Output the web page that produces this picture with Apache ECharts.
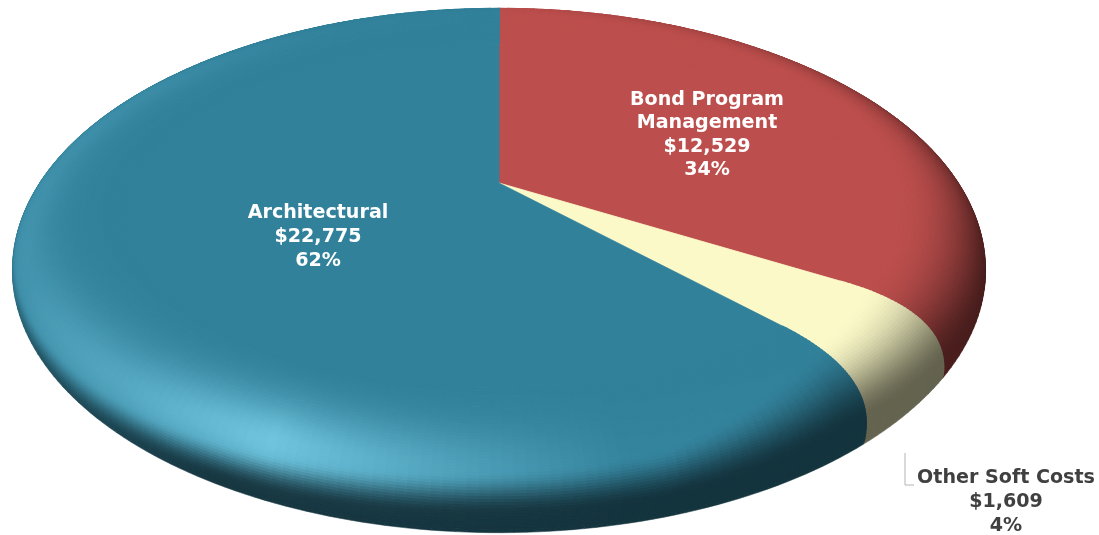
<!DOCTYPE html>
<html><head><meta charset="utf-8">
<style>html,body{margin:0;padding:0;background:#fff}#c{width:1099px;height:535px}</style>
<script src="https://cdn.jsdelivr.net/npm/echarts@6/dist/echarts.min.js"></script>
</head><body><div id="c"></div>
<script>
const categories = ['Bond Program\nManagement', 'Other Soft Costs', 'Architectural'];
const values = [12529, 1609, 22775];
const valueLabels = ['$12,529', '$1,609', '$22,775'];
const percentLabels = ['34%', '4%', '62%'];
const colors = ['#BC4F4D', '#FBF9C8', '#32819B'];
const glowColors = ['#E07070', '#FFFFE0', '#78CDE6'];
const labelColors = ['#ffffff', '#404040', '#ffffff'];
const labelCentres = [[707, 135], [1006, 502], [318, 237]];

// disc geometry
const G = {cx: 499, apexY: 183, k: 215, m: 471, p: 0.25, ox: 499, oy: 270.5, orx: 486.6, ory: 262.2, r0: 0.77, rc: 0.99};
const cy0 = G.apexY + (G.k / (1 - G.p) - G.k / (1 + G.p)) / 2;
const ry0 = (G.k / (1 - G.p) + G.k / (1 + G.p)) / 2;
function H(r, th) {
  const X = r * Math.sin(th), Y = -r * Math.cos(th), d = 1 - G.p * Y;
  return [G.cx + G.m * X / d, G.apexY + G.k * Y / d];
}
function phiOf(th) {
  const h = H(1, th);
  let ph = Math.atan2((h[0] - G.cx) / G.orx, -(h[1] - cy0) / ry0);
  ph += 5.5 * Math.PI / 180 * Math.sin(ph);
  return ph;
}
function point(th, t) {
  const a = H(G.r0, th), b = H(G.rc, th), ph = phiOf(th);
  const c = [G.ox + G.orx * Math.sin(ph), G.oy - G.ory * Math.cos(ph)];
  const u = 1 - t;
  return [u*u*a[0] + 2*u*t*b[0] + t*t*c[0], u*u*a[1] + 2*u*t*b[1] + t*t*c[1]];
}
function table(tb, x) {
  for (let i = 1; i < tb.length; i++) if (x <= tb[i][0]) {
    const f = (x - tb[i-1][0]) / (tb[i][0] - tb[i-1][0]);
    return tb[i-1][1] + f * (tb[i][1] - tb[i-1][1]);
  }
  return tb[tb.length-1][1];
}
const darkT = [[0,0.02],[30,0.15],[60,0.38],[90,0.62],[120,0.6],[180,0.6],[215,0.6],[250,0.4],[275,0.1],[320,0.02],[360,0.02]];
const dS = [[0,.6],[30,.45],[60,.3],[90,.12],[115,.1],[135,.2],[160,.5],[180,.55],[210,.65],[240,.75],[270,.85],[360,.6]];
const dE = [[0,1],[90,1],[115,.85],[135,.78],[160,.85],[180,.85],[210,.92],[240,1],[360,1]];
const glowT = [[0,0],[120,0],[165,0.05],[185,0.42],[208,0.9],[232,0.5],[260,0.26],[280,0.22],[310,0.16],[335,0.04],[360,0]];
const glowC = [[0,.6],[180,.55],[217,.55],[270,.7],[360,.6]];
function ss(a, b, x) { const v = Math.min(1, Math.max(0, (x - a) / (b - a))); return v * v * (3 - 2 * v); }
function hex(c) { return [parseInt(c.slice(1,3),16), parseInt(c.slice(3,5),16), parseInt(c.slice(5,7),16)]; }
function shade(i, th, t) {
  let deg = phiOf(th) * 180 / Math.PI; if (deg < 0) deg += 360;
  const base = hex(colors[i]), glow = hex(glowColors[i]);
  const c = table(glowC, deg);
  const g = table(glowT, deg) * (Math.exp(-Math.pow((t - c) / 0.3, 2)) - Math.exp(-Math.pow(c / 0.3, 2)) * (1 - t));
  const dk = 1 - table(darkT, deg) * ss(table(dS, deg), table(dE, deg), t);
  return 'rgb(' + base.map((b, j) => Math.round((b + (glow[j] - b) * Math.max(0, g)) * dk)).join(',') + ')';
}
const total = values.reduce((a, b) => a + b, 0);
const starts = values.map((v, i) => values.slice(0, i).reduce((a, b) => a + b, 0));

function renderItem(params, api) {
  const i = params.dataIndex, v = api.value(1);
  const a0 = starts[i] / total * 2 * Math.PI, a1 = a0 + v / total * 2 * Math.PI;
  const n = Math.max(4, Math.ceil((a1 - a0) / (1.2 * Math.PI / 180))), T = 48;
  const kids = [];
  for (let s = T - 1; s >= 0; s--) {
    for (let a = 0; a < n; a++) {
      const p = a0 + (a1 - a0) * a / n, q = a0 + (a1 - a0) * (a + 1) / n;
      const t0 = s / T, t1 = (s + 1) / T, col = shade(i, (p + q) / 2, (t0 + t1) / 2);
      kids.push({type: 'polygon', silent: true,
        shape: {points: [point(p, t0), point(q, t0), point(q, t1), point(p, t1)]},
        style: {fill: col, stroke: col, lineWidth: s === T - 1 ? 0.5 : 1.3}});
    }
  }
  const flat = [H(0, 0)];
  for (let a = 0; a <= n; a++) flat.push(H(G.r0, a0 + (a1 - a0) * a / n));
  kids.push({type: 'polygon', silent: true, shape: {points: flat}, style: {fill: colors[i], stroke: colors[i], lineWidth: 0.8}});
  return {type: 'group', children: kids};
}
function labelItem(params) {
  const i = params.dataIndex, c = labelCentres[i];
  const kids = [{type: 'text', silent: true, style: {
    text: categories[i] + '\n' + valueLabels[i] + '\n' + percentLabels[i],
    x: c[0], y: c[1], align: 'center', verticalAlign: 'middle',
    font: 'bold 19.1px "DejaVu Sans"', lineHeight: 23.6, fill: labelColors[i]}}];
  if (i === 1) kids.push({type: 'polyline', silent: true,
    shape: {points: [[905, 453], [905, 485], [914, 485]]},
    style: {fill: 'none', stroke: '#b5b5b5', lineWidth: 1}});
  return {type: 'group', children: kids};
}
const data = values.map((v, i) => [i, v]);
const chart = echarts.init(document.getElementById('c'), null, {renderer: 'canvas'});
chart.setOption({
  animation: false, backgroundColor: '#fff',
  series: [
    {type: 'custom', coordinateSystem: 'none', data, renderItem, silent: true, progressive: 0, z: 1},
    {type: 'custom', coordinateSystem: 'none', data, renderItem: labelItem, silent: true, z: 2}
  ]
});
</script></body></html>
